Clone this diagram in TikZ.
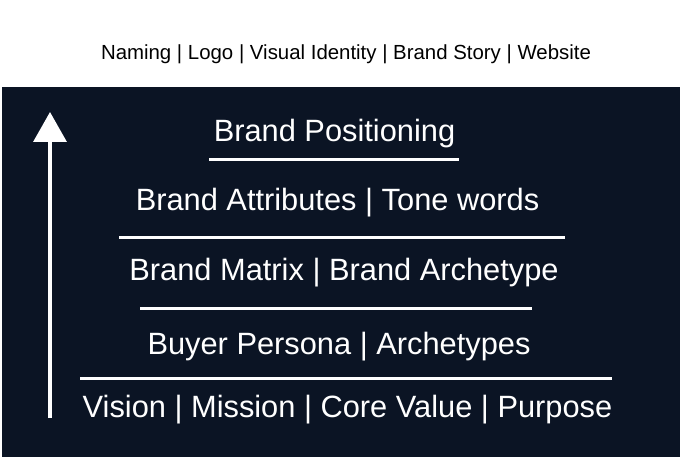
\documentclass[tikz,border=0pt]{standalone}
\usepackage{fontspec}
\setmainfont{Liberation Sans}
\usetikzlibrary{arrows.meta}
\definecolor{navy}{RGB}{11,20,36}
\begin{document}
\begin{tikzpicture}[x=1pt,y=-1pt,
  tier/.style={anchor=base,text=white,font=\fontsize{30.8}{34}\selectfont,inner sep=0pt},
  rule/.style={draw=white,line width=3pt},
  uparrow/.style={draw=white,line width=3.5pt,-{Triangle[width=33pt,length=30pt]}}]
\useasboundingbox (0,0) rectangle (680,457);
\fill[white] (0,0) rectangle (680,457);
\fill[navy] (2,87) rectangle (680,457);
\node[anchor=base,font=\fontsize{20.4}{24}\selectfont,inner sep=0pt] (top) at (346,60) {Naming | Logo | Visual Identity | Brand Story | Website};
\node[tier] (t5) at (334.5,142) {Brand Positioning};
\node[tier] (t4) at (337.5,211) {Brand Attributes | Tone words};
\node[tier] (t3) at (344,280) {Brand Matrix | Brand Archetype};
\node[tier] (t2) at (339,354) {Buyer Persona | Archetypes};
\node[tier] (t1) at (347.5,417) {Vision | Mission | Core Value | Purpose};
\coordinate (l4a) at (209,160); \coordinate (l4b) at (459,160);
\coordinate (l3a) at (119,238); \coordinate (l3b) at (565,238);
\coordinate (l2a) at (140,308); \coordinate (l2b) at (532,308);
\coordinate (l1a) at (80,378);  \coordinate (l1b) at (612,378);
\draw[rule] (l4a) -- (l4b);
\draw[rule] (l3a) -- (l3b);
\draw[rule] (l2a) -- (l2b);
\draw[rule] (l1a) -- (l1b);
\coordinate (abot) at (50,418);
\coordinate (atop) at (50,112);
\draw[uparrow] (abot) -- (atop);
\end{tikzpicture}
\end{document}
